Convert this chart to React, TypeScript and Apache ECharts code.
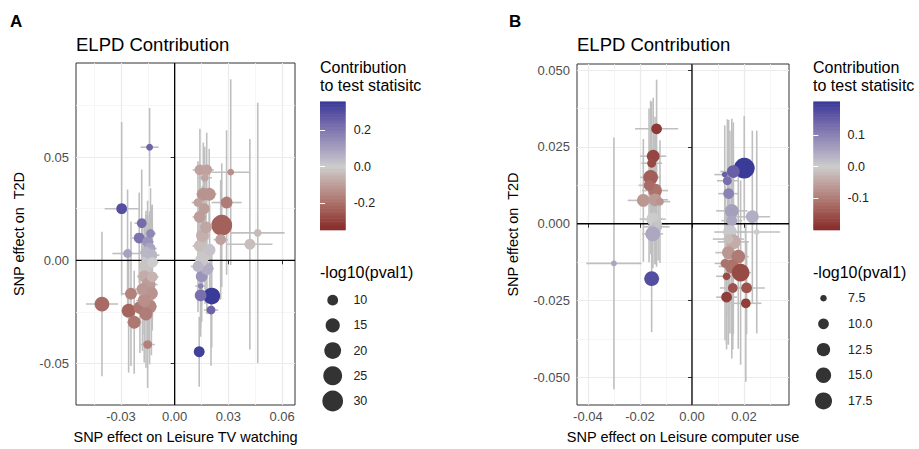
import React, { useEffect, useRef } from "react";
import * as echarts from "echarts";

// ---------------- Panel A: Leisure TV watching ----------------
const aBetaX = [
  -0.0140, -0.0296, -0.0184, -0.0198, -0.0263, -0.0406, -0.0244, -0.0257, -0.0226, -0.0194, -0.0151,
  -0.0151, -0.0140, -0.0150, -0.0130, -0.0160, -0.0170, -0.0145, -0.0130, -0.0140, -0.0170, -0.0125, -0.0135, -0.0160, -0.0125, -0.0180, -0.0160,
  0.0141, 0.0179, 0.0168, 0.0313, 0.0160, 0.0193, 0.0290, 0.0263, 0.0464, 0.0420, 0.0257,
  0.0207, 0.0145, 0.0203, 0.0137, 0.0145, 0.0151, 0.0180, 0.0150, 0.0170, 0.0140, 0.0155, 0.0175, 0.0140, 0.0165, 0.0130, 0.0195, 0.0130,
];
const aBetaY = [
  0.0548, 0.0250, 0.0180, 0.0108, 0.0033, -0.0212, -0.0162, -0.0244, -0.0300, -0.0229, -0.0408,
  0.0089, 0.0057, 0.0000, 0.0025, -0.0030, -0.0078, -0.0117, -0.0160, -0.0224, -0.0195, -0.0080, 0.0130, 0.0040, -0.0010, -0.0140, -0.0260,
  0.0438, 0.0438, 0.0400, 0.0427, 0.0320, 0.0320, 0.0280, 0.0170, 0.0133, 0.0078, 0.0100,
  -0.0173, -0.0170, -0.0241, -0.0443, -0.0125, -0.0078, -0.0040, 0.0000, 0.0030, 0.0070, 0.0120, 0.0160, 0.0210, 0.0250, 0.0280, 0.0050, -0.0030,
];
const aSeX = [
  0.0050, 0.0095, 0.0040, 0.0040, 0.0085, 0.0090, 0.0050, 0.0040, 0.0040, 0.0040, 0.0040,
  0.0035, 0.0040, 0.0030, 0.0045, 0.0035, 0.0040, 0.0050, 0.0035, 0.0040, 0.0045, 0.0035, 0.0030, 0.0040, 0.0035, 0.0045, 0.0040,
  0.0040, 0.0040, 0.0040, 0.0106, 0.0040, 0.0040, 0.0084, 0.0040, 0.0150, 0.0126, 0.0040,
  0.0040, 0.0030, 0.0040, 0.0030, 0.0030, 0.0030, 0.0040, 0.0035, 0.0030, 0.0040, 0.0030, 0.0035, 0.0040, 0.0030, 0.0035, 0.0030, 0.0040,
];
const aSeY = [
  0.019, 0.042, 0.026, 0.022, 0.031, 0.035, 0.035, 0.030, 0.025, 0.022, 0.021,
  0.020, 0.018, 0.022, 0.024, 0.025, 0.028, 0.030, 0.030, 0.028, 0.030, 0.026, 0.022, 0.020, 0.028, 0.030, 0.026,
  0.020, 0.018, 0.015, 0.045, 0.025, 0.022, 0.035, 0.030, 0.063, 0.051, 0.029,
  0.025, 0.020, 0.027, 0.017, 0.020, 0.022, 0.022, 0.022, 0.024, 0.022, 0.024, 0.022, 0.022, 0.022, 0.020, 0.022, 0.022,
];
const aContrib = [
  0.25, 0.30, 0.23, 0.21, 0.10, -0.21, -0.16, -0.22, -0.18, -0.18, -0.16,
  0.13, 0.09, 0.01, 0.05, -0.02, -0.07, -0.10, -0.12, -0.15, -0.13, -0.05, 0.16, 0.05, 0.00, -0.11, -0.17,
  -0.09, -0.09, -0.08, -0.13, -0.12, -0.12, -0.17, -0.23, -0.035, -0.03, -0.09,
  0.355, 0.22, 0.25, 0.34, 0.17, 0.13, 0.07, 0.01, -0.01, -0.03, -0.06, -0.08, -0.10, -0.10, -0.09, 0.02, 0.05,
];
const aLogP = [
  6.7, 10.0, 8.9, 10.0, 8.0, 16.0, 11.3, 14.3, 12.7, 12.7, 8.0,
  10.0, 11.3, 12.7, 11.3, 12.7, 11.3, 14.3, 12.7, 14.3, 12.7, 10.0, 8.0, 10.0, 10.0, 11.3, 12.7,
  10.0, 10.0, 7.3, 6.7, 12.7, 12.7, 11.3, 30.1, 7.3, 10.0, 10.0,
  20.0, 11.3, 8.0, 10.0, 6.3, 11.3, 12.7, 12.7, 14.3, 11.3, 12.7, 11.3, 11.3, 10.0, 8.0, 11.3, 10.0,
];
const aXRange = [-0.0551, 0.0672];
const aYRange = [-0.0701, 0.0956];
const aXTicks = [-0.03, 0, 0.03, 0.06];
const aXMinor = [-0.045, -0.015, 0.015, 0.045];
const aYTicks = [-0.05, 0, 0.05];
const aYMinor = [-0.025, 0.025, 0.075];
const aColorRange = [-0.346, 0.355];
const aColorBreaks = [-0.2, 0, 0.2];
const aSizeBreaks = [10, 15, 20, 25, 30];

// ---------------- Panel B: Leisure computer use ----------------
const bBetaX = [
  -0.0136, -0.0149, -0.0155, -0.0159, -0.0142, -0.0165, -0.0187, -0.0142, -0.0123, -0.0151, -0.0136, -0.0130, -0.0151, -0.0300, -0.0155,
  0.0201, 0.0159, 0.0126, 0.0136, 0.0141, 0.0153, 0.0232, 0.0153, 0.0146, 0.0249, 0.0159, 0.0140, 0.0178, 0.0127, 0.0153, 0.0187, 0.0133, 0.0157, 0.0210, 0.0133, 0.0207, 0.0140,
];
const bBetaY = [
  0.0309, 0.0220, 0.0197, 0.0151, 0.0108, 0.0125, 0.0076, 0.0078, 0.0072, 0.0015, -0.0010, 0.0000, -0.0033, -0.0129, -0.0179,
  0.0181, 0.0170, 0.0160, 0.0140, 0.0098, 0.0042, 0.0023, 0.0010, -0.0027, -0.0027, -0.0059, -0.0094, -0.0107, -0.0129, -0.0139, -0.0159, -0.0171, -0.0209, -0.0209, -0.0239, -0.0259, -0.0050,
];
const bSeX = [
  0.0083, 0.0050, 0.0040, 0.0040, 0.0050, 0.0040, 0.0060, 0.0050, 0.0040, 0.0050, 0.0050, 0.0040, 0.0040, 0.0106, 0.0030,
  0.0040, 0.0050, 0.0040, 0.0040, 0.0040, 0.0060, 0.0068, 0.0040, 0.0060, 0.0090, 0.0060, 0.0050, 0.0040, 0.0040, 0.0050, 0.0040, 0.0040, 0.0050, 0.0070, 0.0040, 0.0060, 0.0060,
];
const bSeY = [
  0.016, 0.019, 0.020, 0.025, 0.024, 0.025, 0.020, 0.021, 0.020, 0.016, 0.013, 0.012, 0.011, 0.041, 0.0174,
  0.017, 0.016, 0.016, 0.020, 0.024, 0.030, 0.028, 0.030, 0.033, 0.033, 0.030, 0.030, 0.030, 0.025, 0.030, 0.030, 0.022, 0.020, 0.015, 0.017, 0.0255, 0.025,
];
const bContrib = [
  -0.18, -0.165, -0.16, -0.135, -0.11, -0.12, -0.065, -0.06, -0.07, 0.0, 0.02, 0.01, 0.05, 0.05, 0.175,
  0.205, 0.15, 0.15, 0.13, 0.10, 0.06, 0.04, 0.05, 0.005, 0.0, -0.04, -0.065, -0.10, -0.11, -0.11, -0.16, -0.16, -0.15, -0.15, -0.175, -0.175, -0.02,
];
const bLogP = [
  10.0, 11.9, 8.6, 14.2, 13.0, 10.0, 11.9, 11.9, 8.0, 11.9, 10.0, 8.0, 14.2, 7.3, 14.2,
  24.0, 11.9, 7.3, 8.6, 10.0, 13.0, 11.9, 10.0, 13.0, 7.3, 14.2, 11.9, 13.0, 8.6, 13.0, 18.6, 8.0, 9.2, 10.0, 10.0, 9.2, 9.2,
];
const bXRange = [-0.0442, 0.0373];
const bYRange = [-0.059, 0.052];
const bXTicks = [-0.04, -0.02, 0, 0.02];
const bXMinor = [-0.03, -0.01, 0.01, 0.03];
const bYTicks = [-0.05, -0.025, 0, 0.025, 0.05];
const bYMinor = [-0.0375, -0.0125, 0.0125, 0.0375];
const bColorRange = [-0.2, 0.205];
const bColorBreaks = [-0.1, 0, 0.1];
const bSizeBreaks = [7.5, 10, 12.5, 15, 17.5];

// colour scale (muted red -> grey80 -> muted blue, Lab-like stops)
const COLORS = ["#832424", "#9B504A", "#AF7973", "#BFA29E", "#CCCCCC", "#ABA5C0", "#8980B3", "#655CA6", "#3A3A98"];

const FONT = "'Liberation Sans', Arial, Helvetica, sans-serif";
const sizeA = (v: number) => 3.9 + 17.2 * Math.sqrt(Math.max(0, v - 6) / 25);
const sizeB = (v: number) => 3.5 + 17.76 * Math.sqrt(Math.max(0, v - 7) / 18);

const zip = (xs: number[], ys: number[], cs: number[], ps: number[]) => xs.map((x, i) => [x, ys[i], cs[i], ps[i]]);
const zipErr = (xs: number[], ys: number[], sx: number[], sy: number[]) => xs.map((x, i) => [x, ys[i], sx[i], sy[i]]);

function mainX(gridIndex: number, range: number[], ticks: number[], digits: number, name: string) {
  return {
    type: "value", gridIndex, min: range[0], max: range[1],
    axisLine: { show: false },
    axisTick: { show: true, length: 4, lineStyle: { color: "#333", width: 1 }, customValues: ticks },
    axisLabel: { customValues: ticks, formatter: (v: number) => Number(v).toFixed(digits), color: "#4d4d4d", fontSize: 13, margin: 5, fontFamily: FONT },
    splitLine: { show: true, lineStyle: { color: "#ebebeb", width: 1.2 } },
    name, nameLocation: "middle", nameGap: 24,
    nameTextStyle: { fontSize: 14.5, color: "#000", fontFamily: FONT },
  };
}
function mainY(gridIndex: number, range: number[], ticks: number[], digits: number, name: string, gap: number) {
  return {
    type: "value", gridIndex, min: range[0], max: range[1],
    axisLine: { show: false },
    axisTick: { show: true, length: 4, lineStyle: { color: "#333", width: 1 }, customValues: ticks },
    axisLabel: { customValues: ticks, formatter: (v: number) => Number(v).toFixed(digits), color: "#4d4d4d", fontSize: 13, margin: 7, fontFamily: FONT },
    splitLine: { show: true, lineStyle: { color: "#ebebeb", width: 1.2 } },
    name, nameLocation: "middle", nameGap: gap,
    nameTextStyle: { fontSize: 14.5, color: "#000", fontFamily: FONT },
  };
}
function minorAxis(gridIndex: number, range: number[], minors: number[]) {
  return {
    type: "value", gridIndex, min: range[0], max: range[1],
    axisLine: { show: false },
    axisTick: { show: false, customValues: minors },
    axisLabel: { show: false },
    splitLine: { show: true, lineStyle: { color: "#f4f4f4", width: 0.8 } },
  };
}
function hiddenX(gridIndex: number) {
  return { type: "value", gridIndex, min: 0, max: 1, show: false };
}
function colorbarY(gridIndex: number, range: number[], breaks: number[], side: string, margin: number) {
  return {
    type: "value", gridIndex, min: range[0], max: range[1], position: side, z: 10,
    axisLine: { show: false },
    axisTick: { show: true, inside: true, length: 5, lineStyle: { color: "#fff", width: 1 }, customValues: breaks },
    axisLabel: side === "right"
      ? { customValues: breaks, formatter: (v: number) => Number(v).toFixed(1), color: "#222", fontSize: 12.5, margin, fontFamily: FONT }
      : { show: false },
    splitLine: { show: false },
  };
}
function sizeY(gridIndex: number, breaks: number[], digits: number, margin: number) {
  return {
    type: "category", gridIndex, inverse: true, position: "right",
    data: breaks.map((b) => b.toFixed(digits)),
    axisLine: { show: false }, axisTick: { show: false }, splitLine: { show: false },
    axisLabel: { color: "#222", fontSize: 12.5, margin, fontFamily: FONT },
  };
}

function errSeries(xi: number, yi: number, data: number[][]) {
  return {
    type: "custom", xAxisIndex: xi, yAxisIndex: yi, z: 2, silent: true, clip: true, data,
    renderItem: (_p: any, api: any) => {
      const x = api.value(0), y = api.value(1), sx = api.value(2), sy = api.value(3);
      const l = api.coord([x - sx, y]), r = api.coord([x + sx, y]);
      const t = api.coord([x, y + sy]), b = api.coord([x, y - sy]);
      const style = { stroke: "#bfbfbf", lineWidth: 1.6 };
      return {
        type: "group",
        children: [
          { type: "line", shape: { x1: t[0], y1: t[1], x2: b[0], y2: b[1] }, style },
          { type: "line", shape: { x1: l[0], y1: l[1], x2: r[0], y2: r[1] }, style },
        ],
      };
    },
  };
}
function zeroSeries(xi: number, yi: number) {
  return {
    type: "custom", xAxisIndex: xi, yAxisIndex: yi, z: 3, silent: true, data: [[0, 0]],
    renderItem: (params: any, api: any) => {
      const cs = params.coordSys;
      const o = api.coord([0, 0]);
      const style = { stroke: "#000", lineWidth: 1.3 };
      return {
        type: "group",
        children: [
          { type: "line", shape: { x1: o[0], y1: cs.y, x2: o[0], y2: cs.y + cs.height }, style },
          { type: "line", shape: { x1: cs.x, y1: o[1], x2: cs.x + cs.width, y2: o[1] }, style },
        ],
      };
    },
  };
}
function pointSeries(xi: number, yi: number, data: number[][], sizeFn: (v: number) => number) {
  return {
    type: "scatter", xAxisIndex: xi, yAxisIndex: yi, z: 4, silent: true, data,
    symbol: "circle", symbolSize: (val: number[]) => sizeFn(val[3]),
    itemStyle: { opacity: 1 },
  };
}
function colorbarSeries(xi: number, yi: number, range: number[]) {
  const n = 90;
  const step = (range[1] - range[0]) / n;
  const data = Array.from({ length: n }, (_, i) => {
    const v = range[0] + (i + 0.5) * step;
    return [0.5, v, v];
  });
  return {
    type: "custom", xAxisIndex: xi, yAxisIndex: yi, z: 2, silent: true, data,
    renderItem: (_p: any, api: any) => {
      const v = api.value(1);
      const p1 = api.coord([0, v - step / 2]);
      const p2 = api.coord([1, v + step / 2]);
      return {
        type: "rect",
        shape: { x: p1[0], y: p2[1] - 0.3, width: p2[0] - p1[0], height: p1[1] - p2[1] + 0.6 },
        style: { fill: api.visual("color") },
      };
    },
  };
}
function sizeLegendSeries(xi: number, yi: number, breaks: number[], sizeFn: (v: number) => number) {
  return {
    type: "scatter", xAxisIndex: xi, yAxisIndex: yi, silent: true,
    data: breaks.map((b, i) => [0.5, i, b]),
    symbolSize: (val: number[]) => sizeFn(val[2]),
    itemStyle: { color: "#000" },
  };
}

function buildOption() {
  const titleStyle = (size: number, weight: string, extra: any = {}) => ({
    fontSize: size, fontWeight: weight, color: "#000", fontFamily: FONT, ...extra,
  });
  return {
    animation: false,
    backgroundColor: "#fff",
    textStyle: { fontFamily: FONT },
    title: [
      { text: "A", left: 10, top: 13, padding: 0, textStyle: titleStyle(17, "bold") },
      { text: "B", left: 509, top: 13, padding: 0, textStyle: titleStyle(17, "bold") },
      { text: "ELPD Contribution", left: 76, top: 35, padding: 0, textStyle: titleStyle(18.5, "normal") },
      { text: "ELPD Contribution", left: 577, top: 35, padding: 0, textStyle: titleStyle(18.5, "normal") },
      { text: "Contribution\nto test statisitc", left: 320, top: 59, padding: 0, textStyle: titleStyle(16, "normal", { lineHeight: 17.5 }) },
      { text: "Contribution\nto test statisitc", left: 813, top: 59, padding: 0, textStyle: titleStyle(16, "normal", { lineHeight: 17.5 }) },
      { text: "-log10(pval1)", left: 320, top: 264, padding: 0, textStyle: titleStyle(16, "normal") },
      { text: "-log10(pval1)", left: 813, top: 264, padding: 0, textStyle: titleStyle(16, "normal") },
    ],
    grid: [
      { left: 76, top: 63, width: 219, height: 348, show: true, borderColor: "#333", borderWidth: 1, backgroundColor: "#fff" },
      { left: 577, top: 64, width: 212, height: 347, show: true, borderColor: "#333", borderWidth: 1, backgroundColor: "#fff" },
      { left: 320, top: 101.7, width: 25.7, height: 128.3 },
      { left: 813.3, top: 101.7, width: 26.7, height: 128.3 },
      { left: 320, top: 287.6, width: 25.4, height: 126 },
      { left: 813.5, top: 285.3, width: 20, height: 128.5 },
    ],
    xAxis: [
      mainX(0, aXRange, aXTicks, 2, "SNP effect on Leisure TV watching"),
      minorAxis(0, aXRange, aXMinor),
      mainX(1, bXRange, bXTicks, 2, "SNP effect on Leisure computer use"),
      minorAxis(1, bXRange, bXMinor),
      hiddenX(2),
      hiddenX(3),
      hiddenX(4),
      hiddenX(5),
    ],
    yAxis: [
      mainY(0, aYRange, aYTicks, 2, "SNP effect on  T2D", 50),
      minorAxis(0, aYRange, aYMinor),
      mainY(1, bYRange, bYTicks, 3, "SNP effect on  T2D", 57),
      minorAxis(1, bYRange, bYMinor),
      colorbarY(2, aColorRange, aColorBreaks, "right", 8),
      colorbarY(2, aColorRange, aColorBreaks, "left", 8),
      colorbarY(3, bColorRange, bColorBreaks, "right", 7.5),
      colorbarY(3, bColorRange, bColorBreaks, "left", 7.5),
      sizeY(4, aSizeBreaks, 0, 8),
      sizeY(5, bSizeBreaks, 1, 14.5),
    ],
    visualMap: [
      { type: "continuous", show: false, seriesIndex: [2, 6], dimension: 2, min: -0.355, max: 0.355, inRange: { color: COLORS } },
      { type: "continuous", show: false, seriesIndex: [5, 7], dimension: 2, min: -0.205, max: 0.205, inRange: { color: COLORS } },
    ],
    series: [
      errSeries(0, 0, zipErr(aBetaX, aBetaY, aSeX, aSeY)),
      zeroSeries(0, 0),
      pointSeries(0, 0, zip(aBetaX, aBetaY, aContrib, aLogP), sizeA),
      errSeries(2, 2, zipErr(bBetaX, bBetaY, bSeX, bSeY)),
      zeroSeries(2, 2),
      pointSeries(2, 2, zip(bBetaX, bBetaY, bContrib, bLogP), sizeB),
      colorbarSeries(4, 4, aColorRange),
      colorbarSeries(5, 6, bColorRange),
      sizeLegendSeries(6, 8, aSizeBreaks, sizeA),
      sizeLegendSeries(7, 9, bSizeBreaks, sizeB),
    ],
  };
}

export default function App() {
  const ref = useRef<HTMLDivElement>(null);
  useEffect(() => {
    if (!ref.current) return;
    const chart = echarts.init(ref.current, null, { renderer: "svg" });
    chart.setOption(buildOption() as any);
    return () => chart.dispose();
  }, []);
  return (
    <div
      ref={ref}
      style={{ position: "absolute", left: 0, top: 0, width: 919, height: 449, background: "#fff" }}
    />
  );
}
